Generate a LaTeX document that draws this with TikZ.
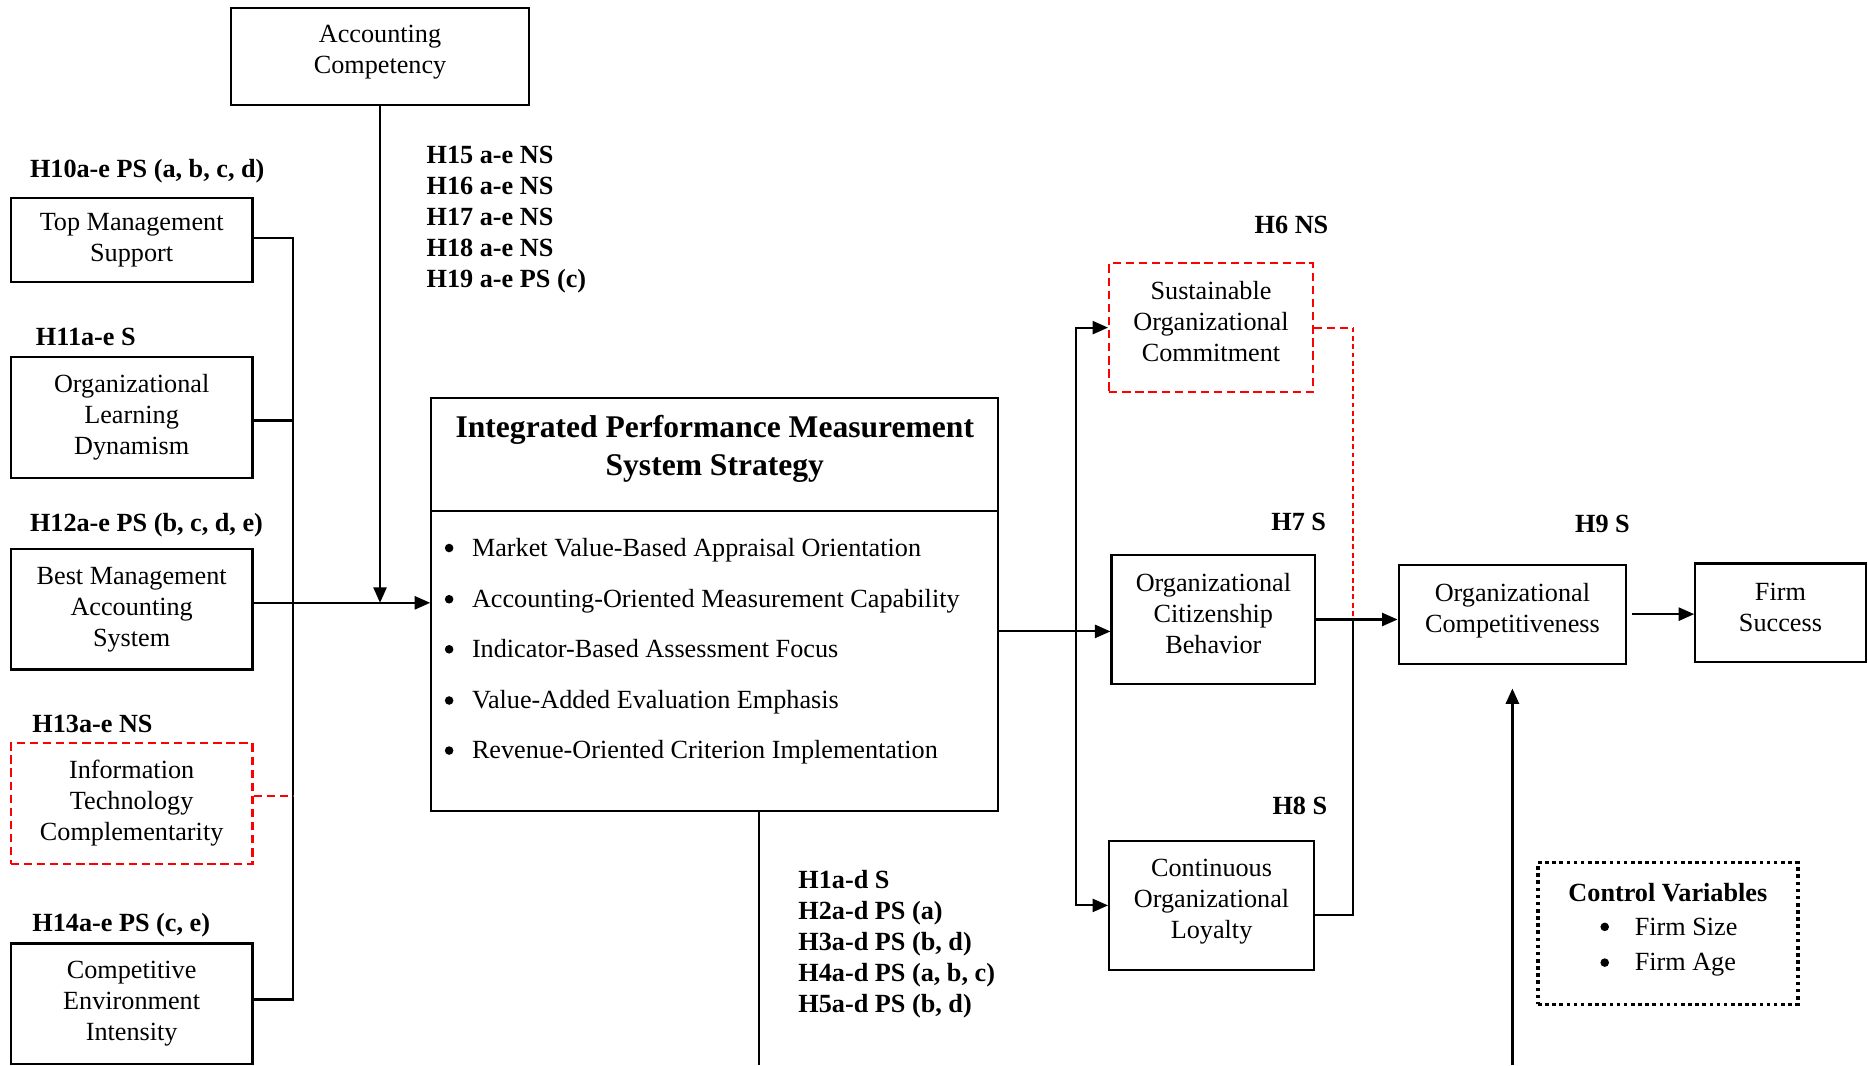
\documentclass[tikz,border=0pt]{standalone}
\usepackage{fontspec}
\setmainfont{Liberation Serif}
\usetikzlibrary{arrows.meta}
\begin{document}
\begin{tikzpicture}[x=1pt,y=-1pt,
  font=\fontsize{22}{26}\selectfont,
  box/.style={draw, line width=1.8pt, inner sep=0pt, align=center},
  rbox/.style={box, draw=red, dash pattern=on 7pt off 4pt},
  lab/.style={font=\fontsize{22}{26}\selectfont\bfseries, anchor=base west, inner sep=0pt},
  txt/.style={anchor=base west, inner sep=0pt},
  ln/.style={line width=1.8pt},
  reddash/.style={line width=1.8pt, draw=red, dash pattern=on 7pt off 4pt},
  reddot/.style={line width=1.6pt, draw=red, dash pattern=on 4pt off 3pt},
  arr/.style={ln, -{Triangle[length=13pt,width=11pt]}}
]
\useasboundingbox (0,0) rectangle (1568,894);

% boxes
\node[box, minimum width=250pt, minimum height=81pt, text depth=11.8pt] (ac) at (319,47.5) {Accounting\\Competency};
\node[box, minimum width=203pt, minimum height=71pt] (tms) at (110.5,201.5) {Top Management\\Support};
\node[box, minimum width=203pt, minimum height=101pt] (old) at (110.5,350.5) {Organizational\\Learning\\Dynamism};
\node[box, minimum width=203pt, minimum height=101pt] (bmas) at (110.5,511.5) {Best Management\\Accounting\\System};
\node[rbox, minimum width=203pt, minimum height=101pt] (itc) at (110.5,674.5) {Information\\Technology\\Complementarity};
\node[box, minimum width=203pt, minimum height=101pt] (cei) at (110.5,842.5) {Competitive\\Environment\\Intensity};

\node[box, minimum width=476pt, minimum height=347pt] (ipms) at (600,507.5) {};
\draw[ln] (ipms.west |- 0,429) -- (ipms.east |- 0,429);
\node[font=\fontsize{26.5}{32}\selectfont\bfseries, align=center, inner sep=0pt] (ipt) at (600,377) {Integrated Performance Measurement\\System Strategy};
\foreach \t/\yy [count=\i] in {Market Value-Based Appraisal Orientation/460,
  Accounting-Oriented Measurement Capability/503,
  Indicator-Based Assessment Focus/545,
  Value-Added Evaluation Emphasis/588,
  Revenue-Oriented Criterion Implementation/630}{
  \fill (377,\yy) circle (3.6pt);
  \node[txt] (ib\i) at (396,\yy+7) {\t};
}

\node[rbox, minimum width=171pt, minimum height=108pt, text depth=10pt] (soc) at (1016.5,275) {Sustainable\\Organizational\\Commitment};
\node[box, minimum width=171pt, minimum height=108pt, text depth=10pt] (ocb) at (1018.5,520) {Organizational\\Citizenship\\Behavior};
\node[box, minimum width=172pt, minimum height=108pt, text depth=10.8pt] (col) at (1017,760) {Continuous\\Organizational\\Loyalty};
\node[box, minimum width=191pt, minimum height=83pt, text depth=10.8pt] (oc) at (1269.5,515.5) {Organizational\\Competitiveness};
\node[box, minimum width=143pt, minimum height=83pt, text depth=10pt] (fs) at (1494.5,514.5) {Firm\\Success};

\node[draw, line width=3pt, dash pattern=on 3pt off 3pt, minimum width=218pt, minimum height=119pt, inner sep=0pt] (cv) at (1400,783.5) {};
\node[font=\fontsize{22}{26}\selectfont\bfseries, inner sep=0pt] (cvt) at (1400,749) {Control Variables};
\fill (1347,778) circle (3.6pt);
\node[txt] (cv1) at (1372,785) {Firm Size};
\fill (1347,808) circle (3.6pt);
\node[txt] (cv2) at (1372,815) {Firm Age};

% labels
\node[lab] (h10) at (25,149) {H10a-e PS (a, b, c, d)};
\node[lab] (h11) at (30,290) {H11a-e S};
\node[lab] (h12) at (25,446) {H12a-e PS (b, c, d, e)};
\node[lab] (h13) at (27,615) {H13a-e NS};
\node[lab] (h14) at (27,782) {H14a-e PS (c, e)};
\node[lab] (h15) at (358,137) {H15 a-e NS};
\node[lab] (h16) at (358,163) {H16 a-e NS};
\node[lab] (h17) at (358,189) {H17 a-e NS};
\node[lab] (h18) at (358,215) {H18 a-e NS};
\node[lab] (h19) at (358,241) {H19 a-e PS (c)};
\node[lab] (h1) at (670,746) {H1a-d S};
\node[lab] (h2) at (670,772) {H2a-d PS (a)};
\node[lab] (h3) at (670,798) {H3a-d PS (b, d)};
\node[lab] (h4) at (670,824) {H4a-d PS (a, b, c)};
\node[lab] (h5) at (670,850) {H5a-d PS (b, d)};
\node[lab] (h6) at (1053,196) {H6 NS};
\node[lab] (h7) at (1067,445) {H7 S};
\node[lab] (h8) at (1068,684) {H8 S};
\node[lab] (h9) at (1322,447) {H9 S};

% left bus
\coordinate (b1) at (246,200);
\coordinate (b2) at (246,353);
\coordinate (b3) at (246,506);
\coordinate (b4) at (246,668);
\coordinate (b5) at (246,839);
\coordinate (j) at (320,506);
\draw[ln] (tms.east |- b1) -- (b1) -- (b5) -- (cei.east |- b5);
\draw[ln] (old.east |- b2) -- (b2);
\draw[reddash] (itc.east |- b4) -- (b4);
\draw[arr] (bmas.east |- b3) -- (ipms.west |- b3);
\draw[arr] (ac.south) -- (ac.south |- j);

% bottom of IPMS
\coordinate (ibot) at (637,894);
\draw[ln] (ipms.south -| ibot) -- (ibot);

% right side
\coordinate (s) at (903,530);
\draw[ln] (ipms.east |- s) -- (s);
\draw[arr] (s) -- (ocb.west |- s);
\draw[arr] (s) |- (soc.west);
\draw[arr] (s) |- (col.west);

\coordinate (m) at (1136,520);
\coordinate (n) at (1136,768);
\draw[arr] (ocb.east) -- (oc.west |- ocb.east);
\draw[ln] (col.east |- n) -- (n) -- (m);
\draw[reddash] (soc.east) -- (soc.east -| m);
\draw[reddot] (soc.east -| m) -- (m);

\draw[arr, shorten <=4pt] (oc.east) -- (fs.west |- oc.east);
\coordinate (cb) at (1269.5,894);
\draw[arr, line width=2.3pt, shorten >=20pt] (cb) -- (oc.south);
\end{tikzpicture}
\end{document}
